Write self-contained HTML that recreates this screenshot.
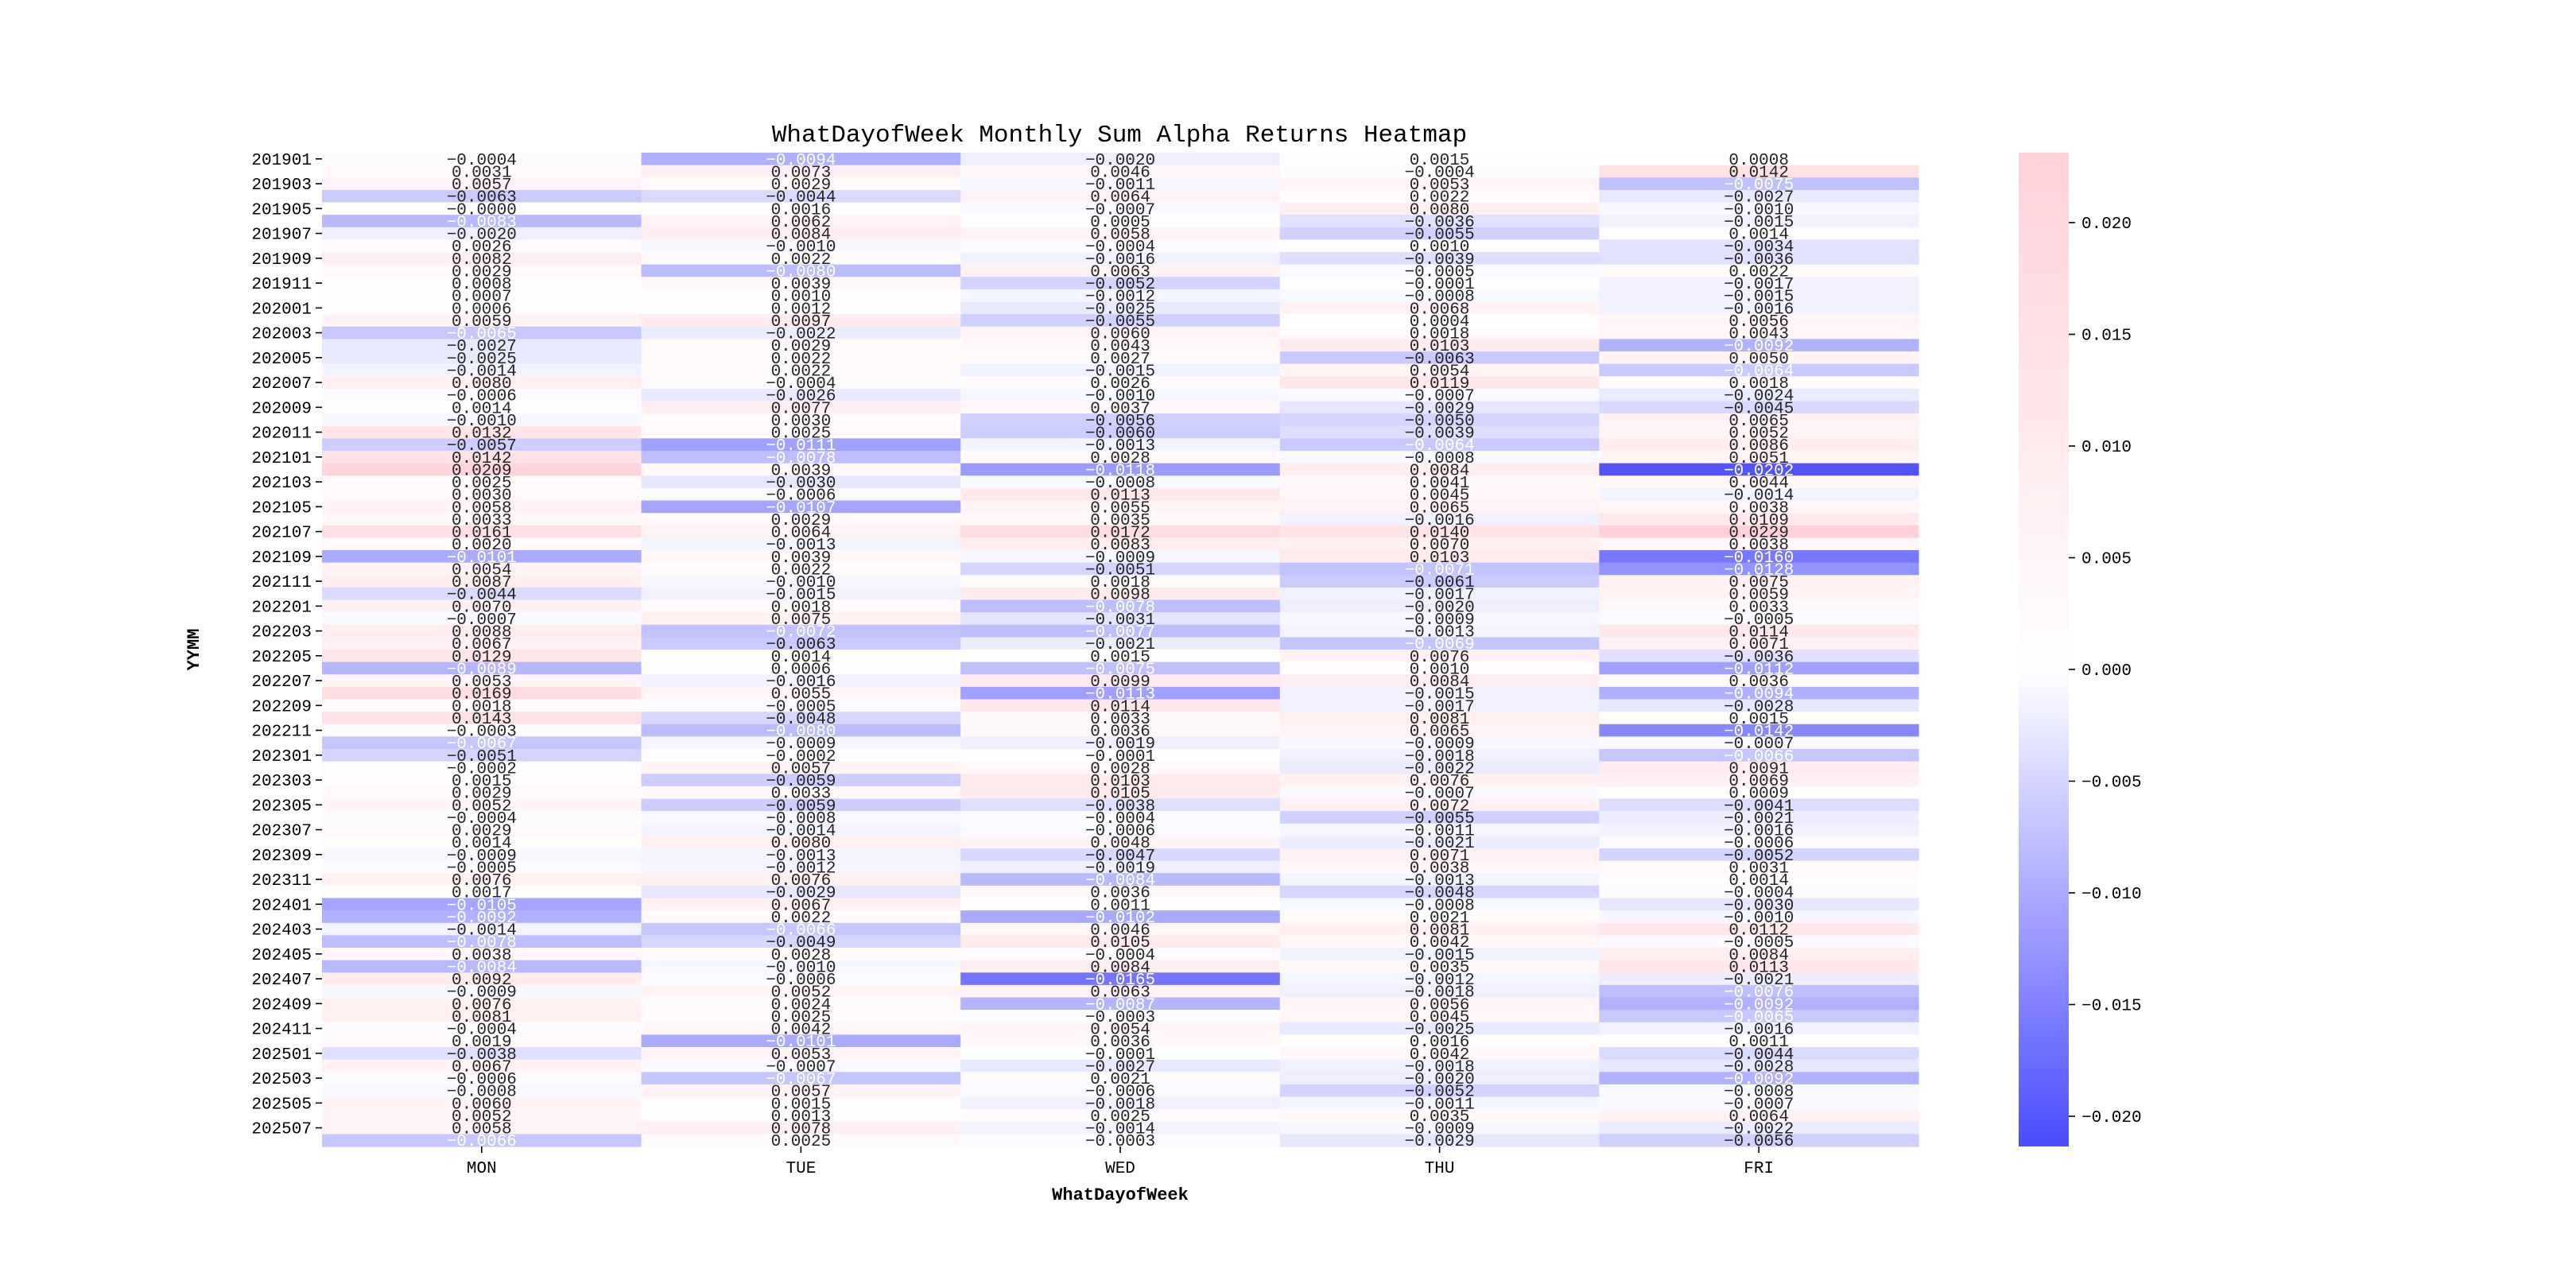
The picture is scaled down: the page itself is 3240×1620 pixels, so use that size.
<!DOCTYPE html>
<html><head><meta charset="utf-8"><style>
body{margin:0;background:#fff}
svg{display:block}
text{font-family:"Liberation Mono","Noto Sans CJK SC",monospace}
</style></head><body>
<svg id="chart" width="3240" height="1620" viewBox="0 0 3240 1620" xmlns="http://www.w3.org/2000/svg">
<rect width="3240" height="1620" fill="#fff"/>
<text x="1408" y="178" font-size="31" text-anchor="middle">WhatDayofWeek Monthly Sum Alpha Returns Heatmap</text>
<g id="cells"></g>
<g id="yticks"></g>
<g id="xticks"></g>
<text x="0" y="0" font-size="22" font-weight="bold" text-anchor="middle" transform="translate(250,817) rotate(-90)">YYMM</text>
<text x="1409" y="1509" font-size="22" font-weight="bold" text-anchor="middle">WhatDayofWeek</text>
<defs><linearGradient id="cg" x1="0" y1="1" x2="0" y2="0">
<stop offset="0" stop-color="rgb(75,75,255)"/>
<stop offset="0.48" stop-color="#ffffff"/>
<stop offset="1" stop-color="rgb(255,208,216)"/>
</linearGradient></defs>
<rect x="2539" y="192" width="63" height="1250" fill="url(#cg)"/>
<g id="cbticks"></g>
</svg>
<script>
const days = ["MON","TUE","WED","THU","FRI"];
const months = ["201901","201902","201903","201904","201905","201906","201907","201908","201909","201910","201911","201912",
"202001","202002","202003","202004","202005","202006","202007","202008","202009","202010","202011","202012",
"202101","202102","202103","202104","202105","202106","202107","202108","202109","202110","202111","202112",
"202201","202202","202203","202204","202205","202206","202207","202208","202209","202210","202211","202212",
"202301","202302","202303","202304","202305","202306","202307","202308","202309","202310","202311","202312",
"202401","202402","202403","202404","202405","202406","202407","202408","202409","202410","202411","202412",
"202501","202502","202503","202504","202505","202506","202507","202508"];
const monValues = [-0.0004,0.0031,0.0057,-0.0063,-0.0000,-0.0083,-0.0020,0.0026,0.0082,0.0029,0.0008,0.0007,
0.0006,0.0059,-0.0065,-0.0027,-0.0025,-0.0014,0.0080,-0.0006,0.0014,-0.0010,0.0132,-0.0057,
0.0142,0.0209,0.0025,0.0030,0.0058,0.0033,0.0161,0.0020,-0.0101,0.0054,0.0087,-0.0044,
0.0070,-0.0007,0.0088,0.0067,0.0129,-0.0089,0.0053,0.0169,0.0018,0.0143,-0.0003,-0.0067,
-0.0051,-0.0002,0.0015,0.0029,0.0052,-0.0004,0.0029,0.0014,-0.0009,-0.0005,0.0076,0.0017,
-0.0105,-0.0092,-0.0014,-0.0078,0.0038,-0.0084,0.0092,-0.0009,0.0076,0.0081,-0.0004,0.0019,
-0.0038,0.0067,-0.0006,-0.0008,0.0060,0.0052,0.0058,-0.0066];
const tueValues = [-0.0094,0.0073,0.0029,-0.0044,0.0016,0.0062,0.0084,-0.0010,0.0022,-0.0080,0.0039,0.0010,
0.0012,0.0097,-0.0022,0.0029,0.0022,0.0022,-0.0004,-0.0026,0.0077,0.0030,0.0025,-0.0111,
-0.0078,0.0039,-0.0030,-0.0006,-0.0107,0.0029,0.0064,-0.0013,0.0039,0.0022,-0.0010,-0.0015,
0.0018,0.0075,-0.0072,-0.0063,0.0014,0.0006,-0.0016,0.0055,-0.0005,-0.0048,-0.0080,-0.0009,
-0.0002,0.0057,-0.0059,0.0033,-0.0059,-0.0008,-0.0014,0.0080,-0.0013,-0.0012,0.0076,-0.0029,
0.0067,0.0022,-0.0066,-0.0049,0.0028,-0.0010,-0.0006,0.0052,0.0024,0.0025,0.0042,-0.0101,
0.0053,-0.0007,-0.0067,0.0057,0.0015,0.0013,0.0078,0.0025];
const wedValues = [-0.0020,0.0046,-0.0011,0.0064,-0.0007,0.0005,0.0058,-0.0004,-0.0016,0.0063,-0.0052,-0.0012,
-0.0025,-0.0055,0.0060,0.0043,0.0027,-0.0015,0.0026,-0.0010,0.0037,-0.0056,-0.0060,-0.0013,
0.0028,-0.0118,-0.0008,0.0113,0.0055,0.0035,0.0172,0.0083,-0.0009,-0.0051,0.0018,0.0098,
-0.0078,-0.0031,-0.0077,-0.0021,0.0015,-0.0075,0.0099,-0.0113,0.0114,0.0033,0.0036,-0.0019,
-0.0001,0.0028,0.0103,0.0105,-0.0038,-0.0004,-0.0006,0.0048,-0.0047,-0.0019,-0.0084,0.0036,
0.0011,-0.0102,0.0046,0.0105,-0.0004,0.0084,-0.0165,0.0063,-0.0087,-0.0003,0.0054,0.0036,
-0.0001,-0.0027,0.0021,-0.0006,-0.0018,0.0025,-0.0014,-0.0003];
const thuValues = [0.0015,-0.0004,0.0053,0.0022,0.0080,-0.0036,-0.0055,0.0010,-0.0039,-0.0005,-0.0001,-0.0008,
0.0068,0.0004,0.0018,0.0103,-0.0063,0.0054,0.0119,-0.0007,-0.0029,-0.0050,-0.0039,-0.0064,
-0.0008,0.0084,0.0041,0.0045,0.0065,-0.0016,0.0140,0.0070,0.0103,-0.0071,-0.0061,-0.0017,
-0.0020,-0.0009,-0.0013,-0.0069,0.0076,0.0010,0.0084,-0.0015,-0.0017,0.0081,0.0065,-0.0009,
-0.0018,-0.0022,0.0076,-0.0007,0.0072,-0.0055,-0.0011,-0.0021,0.0071,0.0038,-0.0013,-0.0048,
-0.0008,0.0021,0.0081,0.0042,-0.0015,0.0035,-0.0012,-0.0018,0.0056,0.0045,-0.0025,0.0016,
0.0042,-0.0018,-0.0020,-0.0052,-0.0011,0.0035,-0.0009,-0.0029];
const friValues = [0.0008,0.0142,-0.0075,-0.0027,-0.0010,-0.0015,0.0014,-0.0034,-0.0036,0.0022,-0.0017,-0.0015,
-0.0016,0.0056,0.0043,-0.0092,0.0050,-0.0064,0.0018,-0.0024,-0.0045,0.0065,0.0052,0.0086,
0.0051,-0.0202,0.0044,-0.0014,0.0038,0.0109,0.0229,0.0038,-0.0160,-0.0128,0.0075,0.0059,
0.0033,-0.0005,0.0114,0.0071,-0.0036,-0.0112,0.0036,-0.0094,-0.0028,0.0015,-0.0142,-0.0007,
-0.0066,0.0091,0.0069,0.0009,-0.0041,-0.0021,-0.0016,-0.0006,-0.0052,0.0031,0.0014,-0.0004,
-0.0030,-0.0010,0.0112,-0.0005,0.0084,0.0113,-0.0021,-0.0076,-0.0092,-0.0065,-0.0016,0.0011,
-0.0044,-0.0028,-0.0092,-0.0008,-0.0007,0.0064,-0.0022,-0.0056];
const cbTickValues = [0.020,0.015,0.010,0.005,0.000,-0.005,-0.010,-0.015,-0.020];
const cbTickLabels = ["0.020","0.015","0.010","0.005","0.000","\u22120.005","\u22120.010","\u22120.015","\u22120.020"];

const series = [monValues,tueValues,wedValues,thuValues,friValues];
const NS="http://www.w3.org/2000/svg";
const L=405,R=2413,T=192,B=1442;
const colW=(R-L)/days.length, rowH=(B-T)/months.length;
const xPos=i=>L+i*colW;
const yPos=j=>T+j*rowH;
const VMAX=0.0231, VMIN=-0.0213;
const cbY=v=>842 - v/0.005*140.5;
function color(v){
  if(v>=0){const t=Math.min(v/VMAX,1);return `rgb(255,${Math.round(255-47*t)},${Math.round(255-39*t)})`;}
  const t=Math.min(v/VMIN,1);const c=Math.round(255-180*t);return `rgb(${c},${c},255)`;
}
function fmt(v){const s=Math.abs(v).toFixed(4);return (v<0||Object.is(v,-0)?"\u2212":"")+s;}
const cells=document.getElementById('cells');
series.forEach((vals,i)=>{
  vals.forEach((v,j)=>{
    const r=document.createElementNS(NS,'rect');
    
    
    r.setAttribute('x',xPos(i));r.setAttribute('y',yPos(j));
    r.setAttribute('width',colW+0.6);r.setAttribute('height',rowH+0.6);
    r.setAttribute('fill',color(v));
    cells.appendChild(r);
  });
});
series.forEach((vals,i)=>{
  vals.forEach((v,j)=>{
    const t=document.createElementNS(NS,'text');
    
    
    t.setAttribute('x',xPos(i)+colW/2);t.setAttribute('y',yPos(j)+rowH/2+7);
    t.setAttribute('font-size','21');t.setAttribute('text-anchor','middle');
    t.setAttribute('fill',v<-0.00635?'#fff':'#262626');
    t.textContent=fmt(v);
    cells.appendChild(t);
  });
});
const yt=document.getElementById('yticks');
months.forEach((m,j)=>{
  if(j%2) return;
  const y=yPos(j)+rowH/2;
  const l=document.createElementNS(NS,'line');
  
  
  l.setAttribute('x1',L-8);l.setAttribute('x2',L);l.setAttribute('y1',y);l.setAttribute('y2',y);l.setAttribute('stroke','#000');l.setAttribute('stroke-width','1.6');
  yt.appendChild(l);
  const t=document.createElementNS(NS,'text');
  
  
  t.setAttribute('x',L-13);t.setAttribute('y',y+7);t.setAttribute('font-size','21');t.setAttribute('text-anchor','end');
  t.textContent=m;yt.appendChild(t);
});
const xt=document.getElementById('xticks');
days.forEach((d,i)=>{
  const x=xPos(i)+colW/2;
  const l=document.createElementNS(NS,'line');
  
  
  l.setAttribute('x1',x);l.setAttribute('x2',x);l.setAttribute('y1',B);l.setAttribute('y2',B+8);l.setAttribute('stroke','#000');l.setAttribute('stroke-width','1.6');
  xt.appendChild(l);
  const t=document.createElementNS(NS,'text');
  
  
  t.setAttribute('x',x);t.setAttribute('y',B+33);t.setAttribute('font-size','21');t.setAttribute('text-anchor','middle');
  t.textContent=d;xt.appendChild(t);
});
const cb=document.getElementById('cbticks');
cbTickValues.forEach((v,k)=>{
  const y=cbY(v);
  const l=document.createElementNS(NS,'line');
  
  
  l.setAttribute('x1',2602);l.setAttribute('x2',2610);l.setAttribute('y1',y);l.setAttribute('y2',y);l.setAttribute('stroke','#000');l.setAttribute('stroke-width','1.6');
  cb.appendChild(l);
  const t=document.createElementNS(NS,'text');
  
  
  t.setAttribute('x',2618);t.setAttribute('y',y+7);t.setAttribute('font-size','21');
  t.textContent=cbTickLabels[k];cb.appendChild(t);
});
</script>
</body></html>
